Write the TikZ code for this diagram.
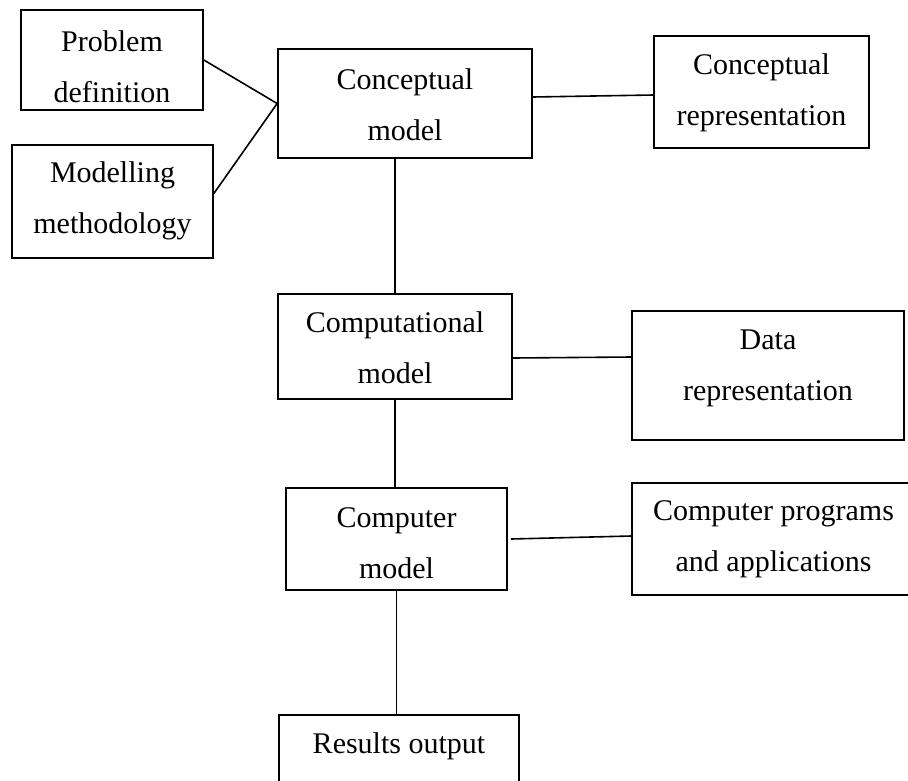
\documentclass[tikz,border=0pt]{standalone}
\usepackage{fontspec}
\setmainfont{Liberation Serif}
% a line of box text with a fixed height and depth, so that
% the centre of a two-line block sits midway between its baselines
\newcommand{\boxline}[1]{\rule[-24pt]{0pt}{48pt}#1}
\begin{document}
\begin{tikzpicture}[x=1pt,y=-1pt,
  frame/.style={draw,line width=1.7pt,rectangle,inner sep=0pt},
  label text/.style={inner sep=0pt,align=center,font=\fontsize{30}{51}\selectfont},
  link/.style={line width=1.6pt}]
\clip (0,0) rectangle (908,780);
\fill[white] (0,0) rectangle (908,780);

% boxes
\node[frame,minimum width=182pt,minimum height=100pt] (pd)   at (112,60)     {};
\node[frame,minimum width=201pt,minimum height=113pt] (mm)   at (112.5,201.5){};
\node[frame,minimum width=254pt,minimum height=109pt] (cm)   at (405,103.5)  {};
\node[frame,minimum width=215pt,minimum height=112pt] (cr)   at (761.5,92)   {};
\node[frame,minimum width=234pt,minimum height=105pt] (comp) at (395,346.5)  {};
\node[frame,minimum width=272pt,minimum height=129pt] (dr)   at (768,375.5)  {};
\node[frame,minimum width=221pt,minimum height=102pt] (cmod) at (396.5,539)  {};
\node[frame,minimum width=283pt,minimum height=112pt] (cp)   at (773.5,539)  {};
\node[frame,minimum width=240pt,minimum height=90pt]  (res)  at (399,760)    {};

% texts
\node[label text] (pdt)   at (112,77)    {\boxline{Problem}\\\boxline{definition}};
\node[label text] (mmt)   at (112.5,208) {\boxline{Modelling}\\\boxline{methodology}};
\node[label text] (cmt)   at (405,114.5) {\boxline{Conceptual}\\\boxline{model}};
\node[label text] (crt)   at (761.5,99.5){\boxline{Conceptual}\\\boxline{representation}};
\node[label text] (compt) at (395,357.5) {\boxline{Computational}\\\boxline{model}};
\node[label text] (drt)   at (768,375)   {\boxline{Data}\\\boxline{representation}};
\node[label text] (cmodt) at (396.5,553) {\boxline{Computer}\\\boxline{model}};
\node[label text] (cpt)   at (773.5,546) {\boxline{Computer programs}\\\boxline{and applications}};
\node[label text] (rest)  at (399,753)   {\boxline{Results output}};

% connectors
\draw[link] (pd.east) -- (cm.west);
\draw[link] ([yshift=8pt]mm.east) -- (cm.west);
\draw[link] ([yshift=6.5pt]cm.east) -- ([yshift=-3pt]cr.west);
\draw[link] (comp.north |- cm.south) -- (comp.north);
\draw[link] ([yshift=-11.5pt]comp.east) -- ([yshift=18.5pt]dr.west);
\draw[link] (comp.south) -- (comp.south |- cmod.north);
\draw[link] ([xshift=3pt]cmod.east) -- ([yshift=3pt]cp.west);
\draw[link] (cmod.south) -- (cmod.south |- res.north);
\end{tikzpicture}
\end{document}
